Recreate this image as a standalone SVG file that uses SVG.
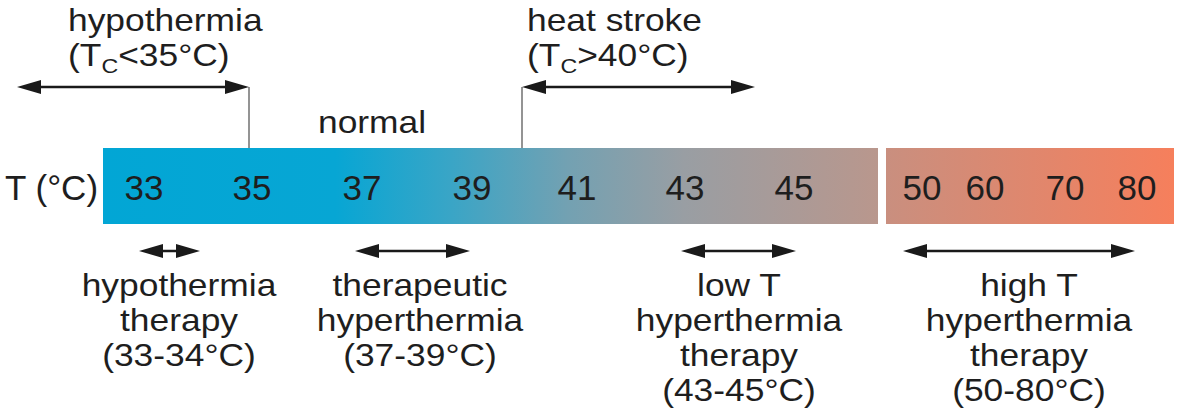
<svg xmlns="http://www.w3.org/2000/svg" width="1181" height="419" viewBox="0 0 1181 419">
  <defs>
    <linearGradient id="g1" x1="103" y1="0" x2="878" y2="0" gradientUnits="userSpaceOnUse">
      <stop offset="0" stop-color="#02a6d5"/>
      <stop offset="0.3" stop-color="#07a6d4"/>
      <stop offset="0.45" stop-color="#3aa5c6"/>
      <stop offset="0.6" stop-color="#73a1b2"/>
      <stop offset="0.75" stop-color="#999ea3"/>
      <stop offset="1" stop-color="#b9978d"/>
    </linearGradient>
    <linearGradient id="g2" x1="886" y1="0" x2="1174" y2="0" gradientUnits="userSpaceOnUse">
      <stop offset="0" stop-color="#c98f7f"/>
      <stop offset="1" stop-color="#f67f5c"/>
    </linearGradient>
    <marker id="ah" markerUnits="userSpaceOnUse" markerWidth="24" markerHeight="14" viewBox="0 0 24 14" refX="10" refY="7" orient="auto-start-reverse">
      <path d="M0,0 L24,7 L0,14 Z" fill="#1a1a1a"/>
    </marker>
    <style>
      text { font-family: "Liberation Sans", Arial, sans-serif; font-size: 35px; fill: #1e1e1e; }
      .lbl { font-size: 30.5px; }
      .c { text-anchor: middle; }
      .sub { font-size: 20px; }
      .arr { stroke: #1a1a1a; stroke-width: 2.6; fill: none; marker-start: url(#ah); marker-end: url(#ah); }
      .lead { stroke: #707070; stroke-width: 1.5; fill: none; }
    </style>
  </defs>
  <rect width="1181" height="419" fill="#ffffff"/>

  <g id="scale">
    <rect x="103" y="148" width="775" height="76" fill="url(#g1)"/>
    <rect x="886" y="148" width="288" height="76" fill="url(#g2)"/>
    <text x="5" y="200">T (°C)</text>
    <text class="c" x="144" y="200">33</text>
    <text class="c" x="252" y="200">35</text>
    <text class="c" x="362" y="200">37</text>
    <text class="c" x="472" y="200">39</text>
    <text class="c" x="577" y="200">41</text>
    <text class="c" x="685" y="200">43</text>
    <text class="c" x="794" y="200">45</text>
    <text class="c" x="922" y="200">50</text>
    <text class="c" x="985" y="200">60</text>
    <text class="c" x="1065" y="200">70</text>
    <text class="c" x="1137" y="200">80</text>
  </g>

  <g id="hypothermia">
    <text class="lbl" transform="translate(68 31) scale(1.16 1)">hypothermia</text>
    <text class="lbl" transform="translate(68 66) scale(1.16 1)">(T<tspan class="sub" dy="7">C</tspan><tspan dy="-7">&lt;35°C)</tspan></text>
  </g>

  <g id="heatstroke">
    <text class="lbl" transform="translate(527 31) scale(1.16 1)">heat stroke</text>
    <text class="lbl" transform="translate(527 66) scale(1.16 1)">(T<tspan class="sub" dy="7">C</tspan><tspan dy="-7">&gt;40°C)</tspan></text>
  </g>

  <g id="normal">
    <text class="lbl" transform="translate(318 133) scale(1.16 1)">normal</text>
  </g>

  <g id="hypothermia-therapy">
    <text class="lbl c" transform="translate(179 296) scale(1.16 1)">hypothermia</text>
    <text class="lbl c" transform="translate(179 331) scale(1.16 1)">therapy</text>
    <text class="lbl c" transform="translate(179 366) scale(1.16 1)">(33-34°C)</text>
  </g>

  <g id="therapeutic-hyperthermia">
    <text class="lbl c" transform="translate(420 296) scale(1.16 1)">therapeutic</text>
    <text class="lbl c" transform="translate(420 331) scale(1.16 1)">hyperthermia</text>
    <text class="lbl c" transform="translate(420 366) scale(1.16 1)">(37-39°C)</text>
  </g>

  <g id="low-t">
    <text class="lbl c" transform="translate(739 296) scale(1.16 1)">low T</text>
    <text class="lbl c" transform="translate(739 331) scale(1.16 1)">hyperthermia</text>
    <text class="lbl c" transform="translate(739 366) scale(1.16 1)">therapy</text>
    <text class="lbl c" transform="translate(739 401) scale(1.16 1)">(43-45°C)</text>
  </g>

  <g id="high-t">
    <text class="lbl c" transform="translate(1029 296) scale(1.16 1)">high T</text>
    <text class="lbl c" transform="translate(1029 331) scale(1.16 1)">hyperthermia</text>
    <text class="lbl c" transform="translate(1029 366) scale(1.16 1)">therapy</text>
    <text class="lbl c" transform="translate(1029 401) scale(1.16 1)">(50-80°C)</text>
  </g>

  <g id="connectors">
    <line class="lead" x1="249" y1="87" x2="249" y2="148"/>
    <line class="lead" x1="522" y1="87" x2="522" y2="148"/>
    <line class="arr" x1="31" y1="87" x2="235" y2="87"/>
    <line class="arr" x1="536" y1="87" x2="741" y2="87"/>
    <line class="arr" x1="153" y1="251" x2="186" y2="251"/>
    <line class="arr" x1="369" y1="251" x2="456" y2="251"/>
    <line class="arr" x1="695" y1="251" x2="782" y2="251"/>
    <line class="arr" x1="917" y1="251" x2="1121" y2="251"/>
  </g>
</svg>
